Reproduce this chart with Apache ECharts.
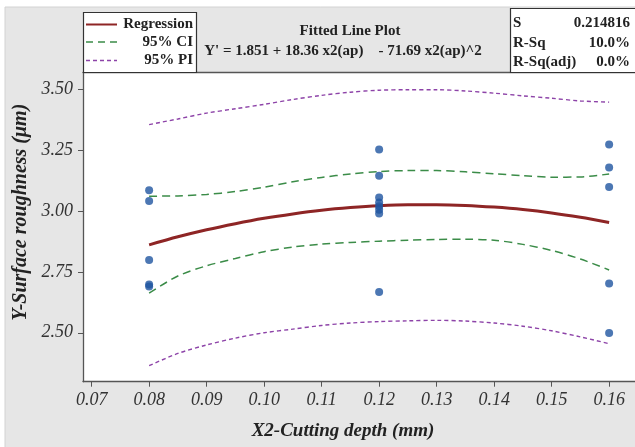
<!DOCTYPE html>
<html>
<head>
<meta charset="utf-8">
<script src="https://cdn.jsdelivr.net/npm/echarts@6/dist/echarts.min.js"></script>
<style>html,body{margin:0;padding:0;background:#fff}#c{width:635px;height:447px}</style>
</head>
<body>
<div id="c"></div>
<script>
// ---- data ----
const xTicks = [0.07, 0.08, 0.09, 0.10, 0.11, 0.12, 0.13, 0.14, 0.15, 0.16];
const yTicks = [2.50, 2.75, 3.00, 3.25, 3.50];

const obsX = [0.08, 0.08, 0.08, 0.08, 0.08,
              0.12, 0.12, 0.12, 0.12, 0.12, 0.12, 0.12, 0.12,
              0.16, 0.16, 0.16, 0.16, 0.16];
const obsY = [3.085, 3.041, 2.799, 2.698, 2.690,
              3.253, 3.145, 3.055, 3.035, 3.020, 3.005, 2.990, 2.667,
              3.273, 3.179, 3.099, 2.702, 2.499];

const fitX = [0.080, 0.085, 0.090, 0.095, 0.100, 0.105, 0.110, 0.115, 0.120,
              0.125, 0.130, 0.135, 0.140, 0.145, 0.150, 0.155, 0.160];
const regY = [2.861, 2.894, 2.923, 2.948, 2.970, 2.988, 3.003, 3.014, 3.022,
              3.026, 3.026, 3.023, 3.016, 3.006, 2.992, 2.974, 2.953];
const ciUp = [3.061, 3.062, 3.068, 3.080, 3.098, 3.120, 3.138, 3.152, 3.162,
              3.166, 3.166, 3.161, 3.153, 3.145, 3.139, 3.140, 3.152];
const ciLo = [2.663, 2.733, 2.775, 2.805, 2.833, 2.852, 2.864, 2.871, 2.876,
              2.880, 2.883, 2.884, 2.880, 2.863, 2.838, 2.803, 2.758];
const piUp = [3.355, 3.378, 3.402, 3.420, 3.438, 3.458, 3.475, 3.488, 3.496,
              3.498, 3.498, 3.493, 3.484, 3.473, 3.463, 3.452, 3.447];
const piLo = [2.365, 2.415, 2.450, 2.478, 2.500, 2.515, 2.530, 2.540, 2.546,
              2.549, 2.551, 2.548, 2.540, 2.527, 2.508, 2.483, 2.455];

const equation = "Y' = 1.851 + 18.36 x2(ap)    - 71.69 x2(ap)^2";
const stats = [["S", "0.214816"], ["R-Sq", "10.0%"], ["R-Sq(adj)", "0.0%"]];

// ---- styling ----
const SERIF = '"Liberation Serif", "DejaVu Serif", serif';
const RED = '#8e2525', GREEN = '#3b8c48', PURPLE = '#8d43a8', BLUE = '#1f55a0';
const AX = '#555';

const zip = (a, b) => a.map((v, i) => [v, b[i]]);

const chart = echarts.init(document.getElementById('c'), null, {renderer: 'canvas'});

const lineSeries = (name, ys, color, width, dash) => ({
  name, type: 'line', data: zip(fitX, ys), xAxisIndex: 0, yAxisIndex: 0,
  showSymbol: false, symbol: 'none', smooth: 0.3, silent: true,
  lineStyle: {color, width, type: dash}, z: 3
});

const legendItems = [
  ["Regression", RED, 2, 'solid'],
  ["95% CI", GREEN, 1.5, [7, 5]],
  ["95% PI", PURPLE, 1.5, [4, 3]]
];
const legendY = [24.5, 42, 60.5];
const statsY = [22.7, 42.7, 62.5];

const graphics = [
  {type: 'rect', shape: {x: 5, y: 7, width: 640, height: 450}, style: {fill: '#e6e6e6', stroke: '#d2d2d2', lineWidth: 1}, z: -10, silent: true},
  {type: 'rect', shape: {x: 83.5, y: 12.5, width: 113, height: 60}, style: {fill: '#fff', stroke: '#333', lineWidth: 1.2}, z: 5},
  {type: 'rect', shape: {x: 510.5, y: 8.5, width: 140, height: 64}, style: {fill: '#fff', stroke: '#333', lineWidth: 1.2}, z: 5},
  {type: 'text', x: 350, y: 31.5, style: {text: 'Fitted Line Plot', font: 'bold 15px ' + SERIF, fill: '#222', align: 'center', verticalAlign: 'middle'}, z: 6},
  {type: 'text', x: 343, y: 51, style: {text: equation, font: 'bold 15px ' + SERIF, fill: '#222', align: 'center', verticalAlign: 'middle'}, z: 6}
];
legendItems.forEach((it, i) => {
  const y = legendY[i];
  graphics.push({type: 'line', shape: {x1: 86, y1: y, x2: 117, y2: y}, style: {stroke: it[1], lineWidth: it[2], lineDash: it[3] === 'solid' ? null : it[3]}, z: 6});
  graphics.push({type: 'text', x: 193, y: y, style: {text: it[0], font: 'bold 15px ' + SERIF, fill: '#222', align: 'right', verticalAlign: 'middle'}, z: 6});
});
stats.forEach((s, i) => {
  const y = statsY[i];
  graphics.push({type: 'text', x: 513, y: y, style: {text: s[0], font: 'bold 15px ' + SERIF, fill: '#222', align: 'left', verticalAlign: 'middle'}, z: 6});
  graphics.push({type: 'text', x: 630, y: y, style: {text: s[1], font: 'bold 15px ' + SERIF, fill: '#222', align: 'right', verticalAlign: 'middle'}, z: 6});
});

chart.setOption({
  backgroundColor: '#fff',
  animation: false,
  grid: {left: 83, top: 72.7, right: 0, bottom: 65.3, show: true, backgroundColor: '#fff', borderWidth: 0, containLabel: false},
  xAxis: [{
    type: 'value', min: 0.0685, max: 0.1645, position: 'bottom',
    name: 'X2-Cutting depth (mm)', nameLocation: 'middle', nameGap: 40,
    nameTextStyle: {fontFamily: SERIF, fontSize: 19, fontWeight: 'bold', fontStyle: 'italic', color: '#222', padding: [0, 32, 0, 0]},
    axisLine: {show: true, onZero: false, lineStyle: {color: AX, width: 1.3}},
    axisTick: {show: true, inside: false, length: 5, customValues: xTicks, lineStyle: {color: AX}},
    axisLabel: {show: true, margin: 10, customValues: xTicks, formatter: v => v.toFixed(2),
      fontFamily: SERIF, fontSize: 18, fontStyle: 'italic', color: '#333'},
    splitLine: {show: false}
  }, {
    type: 'value', min: 0.0685, max: 0.1645, position: 'top',
    axisLine: {show: true, onZero: false, lineStyle: {color: AX, width: 1.3}},
    axisTick: {show: false}, axisLabel: {show: false}, splitLine: {show: false}
  }],
  yAxis: [{
    type: 'value', min: 2.299, max: 3.568,
    name: 'Y-Surface roughness (μm)', nameLocation: 'middle', nameGap: 46, nameRotate: 90,
    nameTextStyle: {fontFamily: SERIF, fontSize: 20, fontWeight: 'bold', fontStyle: 'italic', color: '#222', padding: [0, 0, 0, 30]},
    axisLine: {show: true, onZero: false, lineStyle: {color: AX, width: 1.3}},
    axisTick: {show: true, inside: false, length: 5, customValues: yTicks, lineStyle: {color: AX}},
    axisLabel: {show: true, margin: 10, customValues: yTicks, formatter: v => v.toFixed(2),
      fontFamily: SERIF, fontSize: 18, fontStyle: 'italic', color: '#333'},
    splitLine: {show: false}
  }],
  series: [
    lineSeries('95% PI', piUp, PURPLE, 1.4, [4, 3]),
    lineSeries('95% PI', piLo, PURPLE, 1.4, [4, 3]),
    lineSeries('95% CI', ciUp, GREEN, 1.5, [8, 5]),
    lineSeries('95% CI', ciLo, GREEN, 1.5, [8, 5]),
    lineSeries('Regression', regY, RED, 3, 'solid'),
    {name: 'Observed', type: 'scatter', data: zip(obsX, obsY), symbol: 'circle', symbolSize: 8,
     itemStyle: {color: BLUE}, z: 4, silent: true}
  ],
  graphic: graphics
});
</script>
</body>
</html>
